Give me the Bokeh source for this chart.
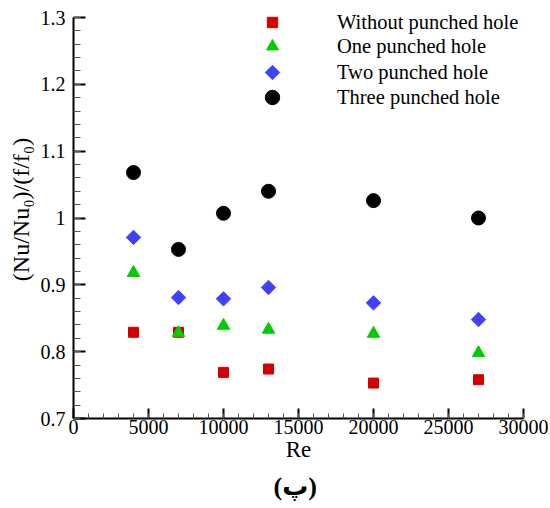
import math

import numpy as np
from bokeh.embed import file_html
from bokeh.models import FixedTicker, Legend, LegendItem, Range1d, Title
from bokeh.plotting import figure
from bokeh.resources import INLINE

# Reynolds numbers tested
re_values = [4000, 7000, 10000, 13000, 20000, 27000]

# Thermal performance factor (Nu/Nu0)/(f/f0) for each configuration
without_hole = [0.829, 0.829, 0.769, 0.774, 0.753, 0.758]
one_hole = [0.918, 0.828, 0.839, 0.833, 0.827, 0.798]
two_holes = [0.971, 0.881, 0.879, 0.896, 0.873, 0.848]
three_holes = [1.068, 0.953, 1.007, 1.040, 1.026, 1.000]

series_names = ["Without punched hole", "One punched hole",
                "Two punched hole", "Three punched hole"]

x_ticks = [0, 5000, 10000, 15000, 20000, 25000, 30000]
y_ticks = [0.7, 0.8, 0.9, 1.0, 1.1, 1.2, 1.3]
y_tick_labels = ["0.7", "0.8", "0.9", "1", "1.1", "1.2", "1.3"]

SERIF = "Liberation Serif"

# canvas / frame geometry (pixels)
W, H = 550, 508
LEFT, RIGHT, BOTTOM = 73, 27, 90
FRAME_W = W - LEFT - RIGHT
FRAME_H = H - BOTTOM
AXIS_TOP = 17                      # where the y axis ends (value 1.3)
X_LO, X_HI = 0, 30000
Y_LO, Y_HI = 0.7, 1.3
# the frame reaches the top edge so the key above 1.3 is not cut off
y_top = Y_HI + (Y_HI - Y_LO) * AXIS_TOP / (FRAME_H - AXIS_TOP)

p = figure(width=W, height=H, output_backend="svg", toolbar_location=None,
           x_range=Range1d(X_LO, X_HI), y_range=Range1d(Y_LO, y_top),
           min_border_left=LEFT, min_border_right=RIGHT,
           min_border_top=0, min_border_bottom=BOTTOM,
           x_axis_label="Re", y_axis_label="(Nu/Nu\u2080)/(f/f\u2080)")
p.grid.visible = False
p.outline_line_color = None
p.background_fill_color = "white"
p.border_fill_color = "white"

p.xaxis.ticker = FixedTicker(ticks=x_ticks,
                             minor_ticks=list(np.arange(X_LO, X_HI + 1, 1000)))
p.yaxis.ticker = FixedTicker(ticks=y_ticks,
                             minor_ticks=[round(v, 2) for v in np.arange(Y_LO, Y_HI + 1e-6, 0.02)])
p.yaxis.major_label_overrides = dict(zip(y_ticks, y_tick_labels))
p.yaxis.bounds = (Y_LO, Y_HI)

for ax in p.axis:
    ax.axis_line_width = 2
    ax.axis_line_color = "black"
    ax.major_tick_line_width = 2
    ax.major_tick_line_color = "black"
    ax.minor_tick_line_width = 1
    ax.minor_tick_line_color = "#555555"
    ax.major_tick_out = 0
    ax.minor_tick_out = 0
    ax.major_label_text_font = SERIF
    ax.major_label_text_font_size = "20px"
    ax.major_label_text_color = "black"
    ax.axis_label_text_font = SERIF
    ax.axis_label_text_font_style = "normal"
    ax.axis_label_text_color = "black"

p.xaxis.major_tick_in = 10
p.xaxis.minor_tick_in = 5
p.yaxis.major_tick_in = 12
p.yaxis.minor_tick_in = 7
p.xaxis.major_label_standoff = 1
p.yaxis.major_label_standoff = 8
p.xaxis.axis_label_text_font_size = "23px"
p.xaxis.axis_label_standoff = 0
p.yaxis.axis_label_text_font_size = "24px"
p.yaxis.axis_label_standoff = 4

red, green, blue = "#d40000", "#00cc00", "#4040ff"

r_sq = p.scatter(re_values, without_hole, marker="square", size=10,
                 fill_color=red, line_color=red)
r_tri = p.scatter(re_values, one_hole, marker="triangle", size=12.5,
                  fill_color=green, line_color=green)
r_dia = p.scatter(re_values, two_holes, marker="square", size=10.2,
                  angle=math.pi / 4, fill_color=blue, line_color=blue)
r_cir = p.scatter(re_values, three_holes, marker="circle", size=14,
                  fill_color="black", line_color="black")


def px_to_x(px):
    return X_LO + (px - LEFT) / FRAME_W * (X_HI - X_LO)


def px_to_y(py):
    return Y_HI - (py - AXIS_TOP) / (FRAME_H - AXIS_TOP) * (Y_HI - Y_LO)


# one legend per entry so each key glyph keeps its own size
row_centers = [22, 46, 72, 97]
glyph_boxes = [26, 30, 26, 36]
key_x, text_x = 272, 337
for rend, name, cy, g in zip([r_sq, r_tri, r_dia, r_cir], series_names,
                             row_centers, glyph_boxes):
    rotated = rend is r_dia
    leg = Legend(items=[LegendItem(label=name, renderers=[rend])],
                 location=(key_x - g // 2 - LEFT, FRAME_H - cy - g // 2),
                 glyph_width=g, glyph_height=0 if rotated else g, label_height=g,
                 label_standoff=text_x - (key_x + g // 2),
                 padding=0, margin=0, spacing=0,
                 border_line_color=None, background_fill_alpha=0,
                 label_text_font=SERIF, label_text_font_size="20.5px",
                 label_text_color="black")
    p.add_layout(leg)
    if rotated:
        # legend keys are drawn unrotated, so the diamond key is drawn here
        p.scatter([px_to_x(key_x)], [px_to_y(cy)], marker="square", size=10.2,
                  angle=math.pi / 4, fill_color=blue, line_color=blue)

# panel caption under the axis title
p.add_layout(Title(text="(پ)", align="left", offset=200, standoff=10,
                   text_font=f"{SERIF}, DejaVu Sans", text_font_size="26px",
                   text_font_style="bold", text_color="black"), "below")

open("out.html", "w").write(file_html(p, INLINE))
